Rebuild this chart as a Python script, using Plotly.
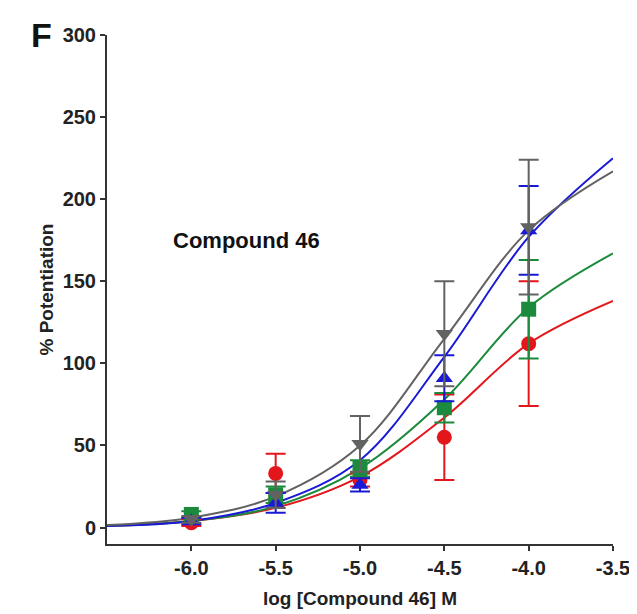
import plotly.graph_objects as go

# Measured points (log M)
dose_x = [-6.0, -5.5, -5.0, -4.5, -4.0]
red_y = [3, 33, 29, 55, 112]
red_err = [2, 12, 4, 26, 38]
green_y = [8, 20, 36, 73, 133]
green_err = [2, 5, 5, 9, 30]
blue_y = [4, 15, 26, 91, 181]
blue_err = [2, 6, 4, 14, 27]
gray_y = [5, 20, 51, 118, 183]
gray_err = [2, 8, 17, 32, 41]

# Fitted curves
curve_x = [-6.5, -6.0, -5.5, -5.0, -4.5, -4.0, -3.5]
red_curve = [1, 4, 12, 31, 67, 112, 138]
green_curve = [1, 4, 13, 36, 78, 134, 167]
blue_curve = [1, 4, 15, 41, 104, 177, 225]
gray_curve = [1.5, 6, 19, 50, 115, 181, 217]

x_ticks = [-6.0, -5.5, -5.0, -4.5, -4.0, -3.5]
x_ticktext = ["-6.0", "-5.5", "-5.0", "-4.5", "-4.0", "-3.5"]
y_ticks = [0, 50, 100, 150, 200, 250, 300]

RED = "#e3161c"
GREEN = "#1b8a3c"
BLUE = "#1a1ad6"
GRAY = "#626262"
FONT = "Liberation Sans"

series = [
    (red_curve, red_y, red_err, RED, "circle"),
    (green_curve, green_y, green_err, GREEN, "square"),
    (blue_curve, blue_y, blue_err, BLUE, "triangle-up"),
    (gray_curve, gray_y, gray_err, GRAY, "triangle-down"),
]

fig = go.Figure()
for curve, ys, errs, col, sym in series:
    fig.add_trace(go.Scatter(
        x=curve_x, y=curve, mode="lines",
        line=dict(color=col, width=2, shape="spline", smoothing=1.0),
        showlegend=False, hoverinfo="skip"))
for curve, ys, errs, col, sym in series:
    fig.add_trace(go.Scatter(
        x=dose_x, y=ys, mode="markers",
        marker=dict(color=col, symbol=sym, size=15),
        error_y=dict(type="data", array=errs, visible=True,
                     color=col, thickness=2, width=10),
        showlegend=False))

fig.add_annotation(x=-5.67, y=175, xref="x", yref="y",
                   text="Compound 46", showarrow=False,
                   font=dict(size=22, color="#111", family=FONT, weight="bold"))
fig.add_annotation(x=-0.13, y=1.0, xref="paper", yref="paper",
                   xanchor="center", yanchor="middle",
                   text="F", showarrow=False,
                   font=dict(size=34, color="#111", family=FONT, weight="bold"))

axis_common = dict(showline=True, linecolor="#333", linewidth=2,
                   ticks="outside", ticklen=5, tickwidth=2, tickcolor="#333",
                   showgrid=False, zeroline=False,
                   tickfont=dict(size=20, color="#222", family=FONT, weight="bold"))

fig.update_xaxes(range=[-6.5, -3.5], tickvals=x_ticks, ticktext=x_ticktext,
                 title=dict(text="log [Compound 46] M", standoff=14,
                            font=dict(size=19, color="#222", family=FONT, weight="bold")),
                 **axis_common)
fig.update_yaxes(range=[-10, 300], tickvals=y_ticks,
                 title=dict(text="% Potentiation", standoff=4,
                            font=dict(size=19, color="#222", family=FONT, weight="bold")),
                 **axis_common)

fig.update_layout(width=637, height=614,
                  margin=dict(l=99, r=32, t=27, b=78),
                  plot_bgcolor="white", paper_bgcolor="white",
                  font=dict(family=FONT))

fig.write_html("out.html")
